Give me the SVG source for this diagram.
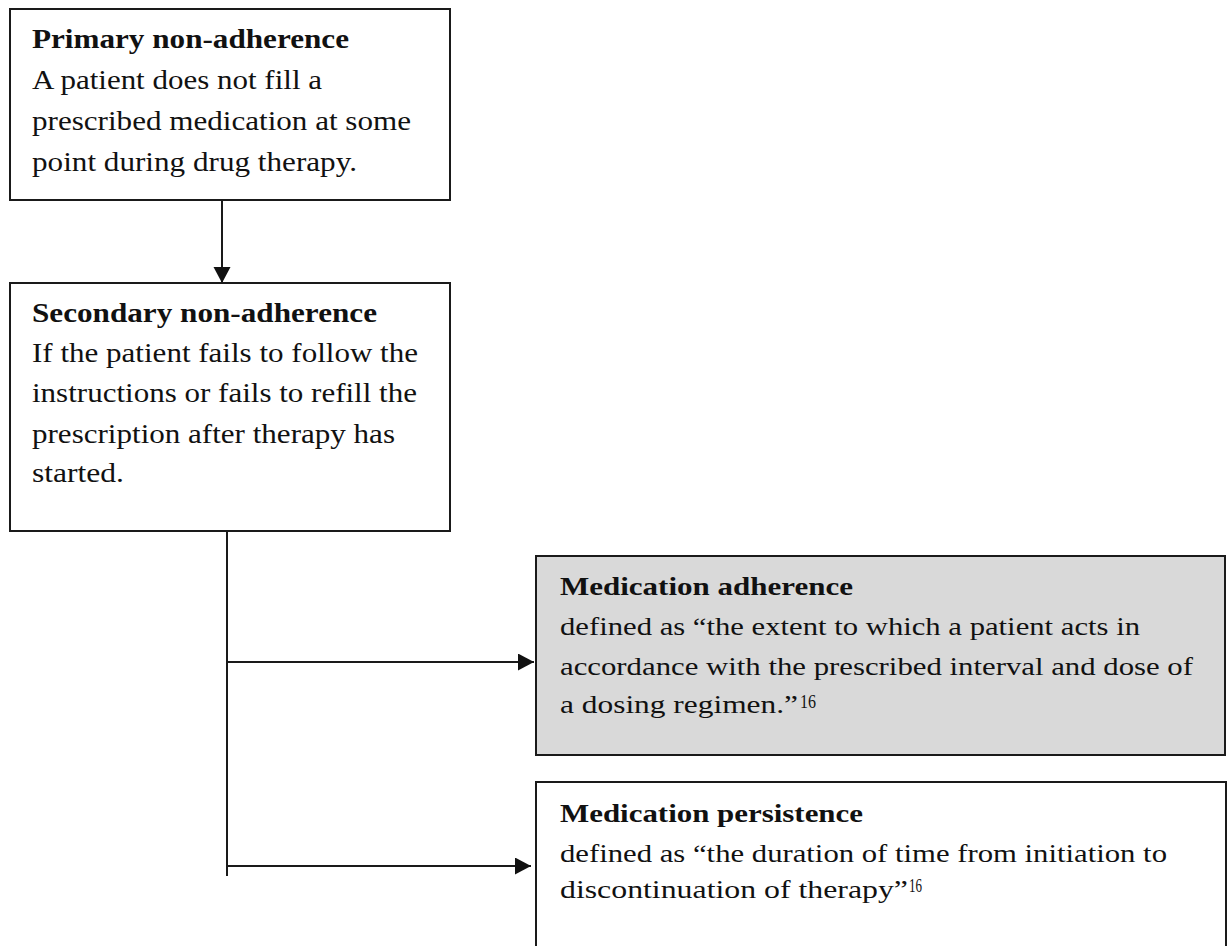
<svg xmlns="http://www.w3.org/2000/svg" width="1229" height="946" viewBox="0 0 1229 946">
<defs>
<style>
.box{fill:#ffffff;stroke:#1a1a1a;stroke-width:2}
.gray{fill:#d9d9d9}
.t{font-family:"Liberation Serif","Times New Roman",serif;font-size:27px;fill:#111}
.s{font-size:26px}
.b{font-weight:bold}
.sup{font-family:"Liberation Serif","Times New Roman",serif;font-size:18px;fill:#111}
.c{stroke:#1a1a1a;stroke-width:2;fill:none}
</style>
<marker id="ah" markerUnits="userSpaceOnUse" markerWidth="17" markerHeight="18" refX="16" refY="8.5" orient="auto">
<path d="M0,0 L16,8.5 L0,17 z" fill="#111"/>
</marker>
</defs>
<rect width="1229" height="946" fill="#ffffff"/>
<g id="connectors">
<line class="c" x1="222" y1="200" x2="222" y2="283" marker-end="url(#ah)"/>
<line class="c" x1="227" y1="531" x2="227" y2="876"/>
<line class="c" x1="227" y1="662" x2="534" y2="662" marker-end="url(#ah)"/>
<line class="c" x1="227" y1="866" x2="531" y2="866" marker-end="url(#ah)"/>
</g>
<g id="primary">
<rect class="box" x="10" y="9" width="440" height="191"/>
<text class="t b" x="32" y="48" textLength="317" lengthAdjust="spacingAndGlyphs">Primary non-adherence</text>
<text class="t" x="32" y="89" textLength="290" lengthAdjust="spacingAndGlyphs">A patient does not fill a</text>
<text class="t" x="32" y="130" textLength="379" lengthAdjust="spacingAndGlyphs">prescribed medication at some</text>
<text class="t" x="32" y="171" textLength="325" lengthAdjust="spacingAndGlyphs">point during drug therapy.</text>
</g>
<g id="secondary">
<rect class="box" x="10" y="283" width="440" height="248"/>
<text class="t b" x="32" y="322" textLength="345" lengthAdjust="spacingAndGlyphs">Secondary non-adherence</text>
<text class="t" x="32" y="362" textLength="386" lengthAdjust="spacingAndGlyphs">If the patient fails to follow the</text>
<text class="t" x="32" y="402" textLength="385" lengthAdjust="spacingAndGlyphs">instructions or fails to refill the</text>
<text class="t" x="32" y="443" textLength="363" lengthAdjust="spacingAndGlyphs">prescription after therapy has</text>
<text class="t" x="32" y="482" textLength="92" lengthAdjust="spacingAndGlyphs">started.</text>
</g>
<g id="adherence">
<rect class="box gray" x="536" y="556" width="689" height="199"/>
<text class="t s b" x="560" y="595" textLength="293" lengthAdjust="spacingAndGlyphs">Medication adherence</text>
<text class="t s" x="560" y="635" textLength="580" lengthAdjust="spacingAndGlyphs">defined as “the extent to which a patient acts in</text>
<text class="t s" x="560" y="675" textLength="633" lengthAdjust="spacingAndGlyphs">accordance with the prescribed interval and dose of</text>
<text class="t s" x="560" y="713" textLength="238" lengthAdjust="spacingAndGlyphs">a dosing regimen.”</text>
<text class="sup" x="800" y="708" textLength="16" lengthAdjust="spacingAndGlyphs">16</text>
</g>
<g id="persistence">
<rect class="box" x="536" y="782" width="690" height="180"/>
<text class="t s b" x="560" y="822" textLength="303" lengthAdjust="spacingAndGlyphs">Medication persistence</text>
<text class="t s" x="560" y="862" textLength="607" lengthAdjust="spacingAndGlyphs">defined as “the duration of time from initiation to</text>
<text class="t s" x="560" y="898" textLength="348" lengthAdjust="spacingAndGlyphs">discontinuation of therapy”</text>
<text class="sup" x="909" y="892" textLength="13" lengthAdjust="spacingAndGlyphs">16</text>
</g>
</svg>
